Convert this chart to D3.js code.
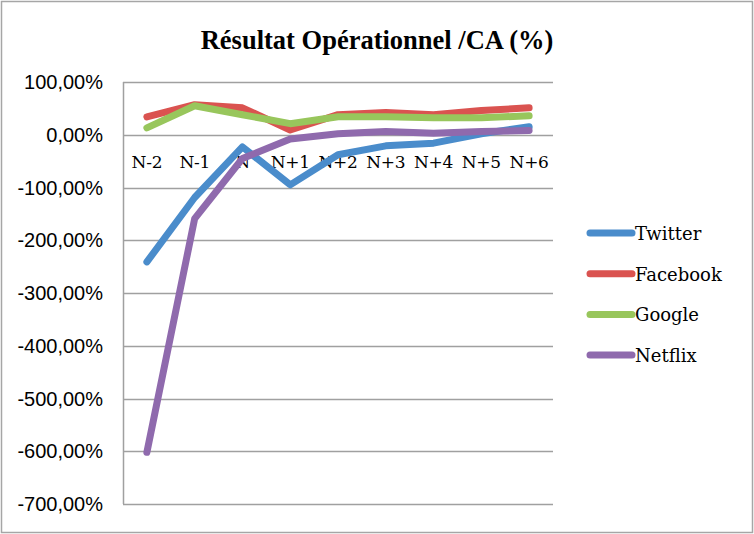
<!DOCTYPE html>
<html><head><meta charset="utf-8">
<script src="https://cdn.jsdelivr.net/npm/d3@7"></script>
<style>body{margin:0;background:#fff}svg{display:block}</style>
</head><body>
<script>
const categories = ["N-2","N-1","N","N+1","N+2","N+3","N+4","N+5","N+6"];
const seriesNames = ["Twitter","Facebook","Google","Netflix"];
const twitter  = [-241,-119,-23,-95,-38,-21,-16,2,15];
const facebook = [34,57,51,9,38,42,38,46,51];
const google   = [13,55,38,21,34,34,32,32,36];
const netflix  = [-602,-159,-45,-8,2,6,3,6,8];
const colors = ["#4a8ccb","#da5350","#98c65c","#8f6aad"];
const yTicks = [100,0,-100,-200,-300,-400,-500,-600,-700];
const title = "Résultat Opérationnel /CA (%)";

const W=754,H=534;
const svg=d3.select("body").append("svg").attr("width",W).attr("height",H);
svg.append("rect").attr("x",1.5).attr("y",1.5).attr("width",W-3).attr("height",H-3)
  .attr("fill","#fff").attr("stroke","#a6a6a6").attr("stroke-width",1.5);

const L=123,R=553,T=82,B=504;
const x=d3.scaleBand().domain(categories).range([L,R]);
const y=d3.scaleLinear().domain([-700,100]).range([B,T]);

svg.append("text").attr("x",377).attr("y",49).attr("text-anchor","middle")
  .attr("font-family","Liberation Serif, serif").attr("font-weight","bold").attr("font-size",26.5)
  .attr("fill","#000").text(title);

// gridlines
svg.append("g").selectAll("line").data(yTicks).join("line")
  .attr("x1",L).attr("x2",R).attr("y1",d=>Math.round(y(d))+0.5).attr("y2",d=>Math.round(y(d))+0.5)
  .attr("stroke","#a0a0a0").attr("stroke-width",1.5);
svg.append("line").attr("x1",L+0.5).attr("x2",L+0.5).attr("y1",T).attr("y2",B)
  .attr("stroke","#a0a0a0").attr("stroke-width",1.5);

// y axis labels
const fmt=d=>(d<0?"-":"")+d3.format(".2f")(Math.abs(d)).replace(".",",")+"%";
svg.append("g").selectAll("text").data(yTicks).join("text")
  .attr("x",103).attr("y",d=>y(d)+7).attr("text-anchor","end")
  .attr("font-family","Liberation Sans, Arial, sans-serif").attr("font-size",20).attr("fill","#000")
  .text(fmt);

// x labels
svg.append("g").selectAll("text").data(categories).join("text")
  .attr("x",d=>x(d)+x.bandwidth()/2).attr("y",168).attr("text-anchor","middle")
  .attr("font-family","DejaVu Serif, serif").attr("font-size",17).attr("letter-spacing",-0.3).attr("fill","#000")
  .text(d=>d);

const data=[twitter,facebook,google,netflix];
const line=d3.line().x((d,i)=>x(categories[i])+x.bandwidth()/2).y(d=>y(d));
const order=[1,2,0,3];
svg.append("g").selectAll("path").data(order).join("path")
  .attr("d",i=>line(data[i])).attr("fill","none").attr("stroke",i=>colors[i])
  .attr("stroke-width",7).attr("stroke-linejoin","round").attr("stroke-linecap","round");

// legend
const lg=svg.append("g").selectAll("g").data(seriesNames).join("g")
  .attr("transform",(d,i)=>`translate(0,${233+i*40.7})`);
lg.append("line").attr("x1",590).attr("x2",632).attr("y1",0).attr("y2",0)
  .attr("stroke",(d,i)=>colors[i]).attr("stroke-width",7).attr("stroke-linecap","round");
lg.append("text").attr("x",635).attr("y",7).attr("font-family","DejaVu Serif, serif")
  .attr("font-size",18).attr("fill","#000").text(d=>d);
</script>
</body></html>
